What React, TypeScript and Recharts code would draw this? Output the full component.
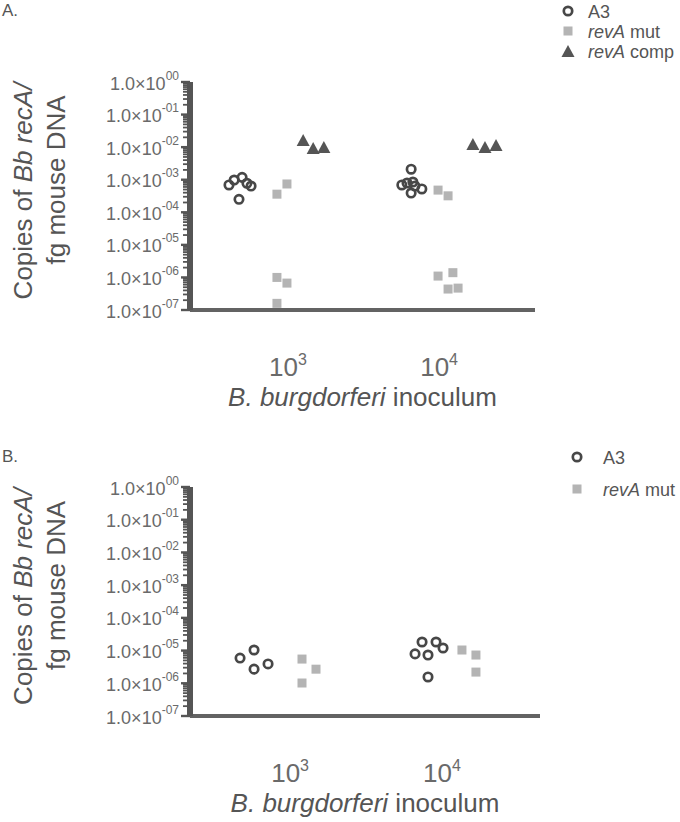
import React from 'react';
import { ScatterChart, Scatter, XAxis, YAxis, Customized } from 'recharts';

const FONT = '"Liberation Sans", Arial, Helvetica, sans-serif';

// ---------- data ----------
const groupExponents = ['3', '4']; // x categories: 10^3, 10^4 inoculum
const decades = [1e-7, 1e-6, 1e-5, 1e-4, 1e-3, 1e-2, 1e-1, 1];
const minorMultipliers = [2, 3, 4, 5, 6, 7, 8, 9];

const panelATickX = [28.4, 72.2];
const panelBTickX = [28.6, 72.0];

// Panel A
const panelA_A3 = [
  { x: 11.3, y: 6.9e-4 }, { x: 12.8, y: 9.8e-4 }, { x: 15.1, y: 1.18e-3 },
  { x: 16.5, y: 7.8e-4 }, { x: 17.7, y: 6.4e-4 }, { x: 14.2, y: 2.5e-4 },
  { x: 64.1, y: 2.1e-3 }, { x: 61.4, y: 6.9e-4 }, { x: 62.9, y: 7.9e-4 },
  { x: 64.6, y: 8.5e-4 }, { x: 65.2, y: 6.4e-4 }, { x: 67.2, y: 5.2e-4 },
  { x: 64.1, y: 3.9e-4 },
];
const panelA_revAmut = [
  { x: 25.2, y: 3.6e-4 }, { x: 28.1, y: 7.4e-4 }, { x: 25.2, y: 1.0e-6 },
  { x: 28.1, y: 6.7e-7 }, { x: 25.2, y: 1.6e-7 },
  { x: 71.9, y: 4.8e-4 }, { x: 74.8, y: 3.2e-4 }, { x: 71.9, y: 1.1e-6 },
  { x: 76.2, y: 1.4e-6 }, { x: 74.8, y: 4.4e-7 }, { x: 77.7, y: 4.7e-7 },
];
const panelA_revAcomp = [
  { x: 32.8, y: 1.55e-2 }, { x: 35.7, y: 8.8e-3 }, { x: 38.8, y: 9.4e-3 },
  { x: 82.0, y: 1.17e-2 }, { x: 85.5, y: 9.4e-3 }, { x: 88.7, y: 1.08e-2 },
];

// Panel B
const panelB_A3 = [
  { x: 14.3, y: 5.9e-6 }, { x: 18.3, y: 1.04e-5 }, { x: 18.3, y: 2.7e-6 },
  { x: 22.3, y: 3.9e-6 },
  { x: 64.3, y: 7.9e-6 }, { x: 66.3, y: 1.83e-5 }, { x: 68.0, y: 7.3e-6 },
  { x: 70.3, y: 1.83e-5 }, { x: 72.3, y: 1.2e-5 }, { x: 68.0, y: 1.56e-6 },
];
const panelB_revAmut = [
  { x: 32.0, y: 5.5e-6 }, { x: 36.0, y: 2.7e-6 }, { x: 32.0, y: 1.02e-6 },
  { x: 77.7, y: 1.04e-5 }, { x: 81.7, y: 7.3e-6 }, { x: 81.7, y: 2.2e-6 },
];

const yTicks = [
  ...decades,
  ...decades.slice(0, -1).flatMap((d) => minorMultipliers.map((m) => d * m)),
].sort((a, b) => a - b);

// ---------- styles ----------
const CIRCLE_STROKE = '#474747';
const SQUARE_FILL = '#b4b4b4';
const TRIANGLE_FILL = '#555';
const TEXT_DARK = '#555';
const TEXT_TICK = '#6a6a6a';

const OpenCircle = (p: any) => (
  <circle cx={p.cx} cy={p.cy} r={4.2} fill="none" stroke={CIRCLE_STROKE} strokeWidth={2.7} />
);
const GraySquare = (p: any) => (
  <rect x={p.cx - 4.5} y={p.cy - 4.5} width={9} height={9} fill={SQUARE_FILL} />
);
const DarkTriangle = (p: any) => (
  <polygon
    points={`${p.cx},${p.cy - 7} ${p.cx - 6.5},${p.cy + 5} ${p.cx + 6.5},${p.cy + 5}`}
    fill={TRIANGLE_FILL}
  />
);

const exponentText = (v: number) => {
  const e = Math.round(Math.log10(v));
  if (e === 0) return '00';
  const a = Math.abs(e);
  return (e < 0 ? '-' : '') + (a < 10 ? '0' + a : String(a));
};

const YTick = (props: any) => {
  const { x, y, payload } = props;
  const v = payload.value;
  const lg = Math.log10(v);
  const major = Math.abs(lg - Math.round(lg)) < 1e-6;
  return (
    <g>
      <line x1={x} x2={x - (major ? 9 : 7)} y1={y} y2={y} stroke="#555" strokeWidth={major ? 2.4 : 1.8} />
      {major && (
        <text x={x - 11} y={y + 7.5} textAnchor="end" fill={TEXT_TICK} fontSize={18} fontFamily={FONT}>
          1.0×10
          <tspan dy={-10} fontSize={12}>{exponentText(v)}</tspan>
        </text>
      )}
    </g>
  );
};

const makeXTick = (ticks: number[]) => (props: any) => {
  const { x, y, payload } = props;
  const idx = ticks.findIndex((t) => Math.abs(t - payload.value) < 1e-9);
  return (
    <text x={x} y={y + 66} textAnchor="middle" fill={TEXT_TICK} fontSize={26} fontFamily={FONT}>
      10
      <tspan dy={-11} fontSize={16}>{groupExponents[idx] ?? ''}</tspan>
    </text>
  );
};

type Layout = {
  height: number;
  top: number;
  bottom: number;
  left: number;
  right: number;
};

const Annotations = ({
  layout,
  title,
  titleY,
  legendX,
  legendTextX,
  legendRows,
  legendItems,
}: {
  layout: Layout;
  title: string;
  titleY: number;
  legendX: number;
  legendTextX: number;
  legendRows: number[];
  legendItems: { name: string; italic: string; kind: 'circle' | 'square' | 'triangle' }[];
}) => {
  const cy = (layout.top + layout.bottom) / 2;
  const cx = (layout.left + layout.right) / 2;
  return (
    <g fontFamily={FONT}>
      <text x={2} y={titleY} fontSize={17} fill={TEXT_DARK}>{title}</text>
      {/* y-axis title */}
      <text transform={`translate(31.5, ${cy - 5}) rotate(-90)`} textAnchor="middle" fontSize={26} fill={TEXT_DARK}>
        Copies of <tspan fontStyle="italic">Bb recA/</tspan>
      </text>
      <text transform={`translate(64.5, ${cy - 16}) rotate(-90)`} textAnchor="middle" fontSize={26} fill={TEXT_DARK}>
        fg mouse DNA
      </text>
      {/* x-axis title */}
      <text x={cx} y={layout.bottom + 96} textAnchor="middle" fontSize={26} fill={TEXT_DARK}>
        <tspan fontStyle="italic">B. burgdorferi</tspan> inoculum
      </text>
      {/* legend */}
      {legendItems.map((it, i) => {
        const ry = legendRows[i];
        let marker: any = null;
        if (it.kind === 'circle') marker = <OpenCircle cx={legendX} cy={ry} />;
        else if (it.kind === 'square') marker = <GraySquare cx={legendX} cy={ry} />;
        else marker = <DarkTriangle cx={legendX} cy={ry + 1} />;
        return (
          <g key={i}>
            {marker}
            <text x={legendTextX} y={ry + 6.5} fontSize={18} fill={TEXT_DARK}>
              {it.italic && <tspan fontStyle="italic">{it.italic}</tspan>}
              {it.name}
            </text>
          </g>
        );
      })}
    </g>
  );
};

const layoutA: Layout = { height: 411, top: 82, bottom: 310, left: 190, right: 535 };
const layoutB: Layout = { height: 411, top: 76, bottom: 305, left: 190, right: 540 };

const Panel = ({
  layout,
  tickX,
  series,
  title,
  titleY,
  legendX,
  legendTextX,
  legendRows,
  legendItems,
}: any) => (
  <ScatterChart
    width={680}
    height={layout.height}
    margin={{ top: layout.top, right: 680 - layout.right, bottom: 0, left: 0 }}
    style={{ display: 'block' }}
  >
    <XAxis
      type="number"
      dataKey="x"
      domain={[0, 100]}
      ticks={tickX}
      interval={0}
      tickLine={false}
      tickSize={0}
      tickMargin={0}
      height={layout.height - layout.bottom}
      axisLine={{ stroke: '#636363', strokeWidth: 4 }}
      tick={makeXTick(tickX)}
      allowDataOverflow
    />
    <YAxis
      type="number"
      dataKey="y"
      scale="log"
      domain={[1e-7, 1]}
      ticks={yTicks}
      interval={0}
      tickLine={false}
      tickSize={0}
      tickMargin={0}
      width={layout.left}
      axisLine={{ stroke: '#555', strokeWidth: 6 }}
      tick={YTick}
      allowDataOverflow
    />
    {series.map((s: any, i: number) => (
      <Scatter key={i} name={s.name} data={s.data} shape={s.shape} isAnimationActive={false} />
    ))}
    <Customized
      component={
        <Annotations
          layout={layout}
          title={title}
          titleY={titleY}
          legendX={legendX}
          legendTextX={legendTextX}
          legendRows={legendRows}
          legendItems={legendItems}
        />
      }
    />
  </ScatterChart>
);

export default function App() {
  return (
    <div style={{ position: 'absolute', left: 0, top: 0, width: 680, height: 822, background: '#fff' }}>
      <Panel
        layout={layoutA}
        tickX={panelATickX}
        title="A."
        titleY={16}
        legendX={568}
        legendTextX={588}
        legendRows={[11, 31, 51]}
        legendItems={[
          { name: 'A3', italic: '', kind: 'circle' },
          { name: ' mut', italic: 'revA', kind: 'square' },
          { name: ' comp', italic: 'revA', kind: 'triangle' },
        ]}
        series={[
          { name: 'A3', data: panelA_A3, shape: OpenCircle },
          { name: 'revA mut', data: panelA_revAmut, shape: GraySquare },
          { name: 'revA comp', data: panelA_revAcomp, shape: DarkTriangle },
        ]}
      />
      <Panel
        layout={layoutB}
        tickX={panelBTickX}
        title="B."
        titleY={51}
        legendX={577}
        legendTextX={603}
        legendRows={[46, 78]}
        legendItems={[
          { name: 'A3', italic: '', kind: 'circle' },
          { name: ' mut', italic: 'revA', kind: 'square' },
        ]}
        series={[
          { name: 'A3', data: panelB_A3, shape: OpenCircle },
          { name: 'revA mut', data: panelB_revAmut, shape: GraySquare },
        ]}
      />
    </div>
  );
}
